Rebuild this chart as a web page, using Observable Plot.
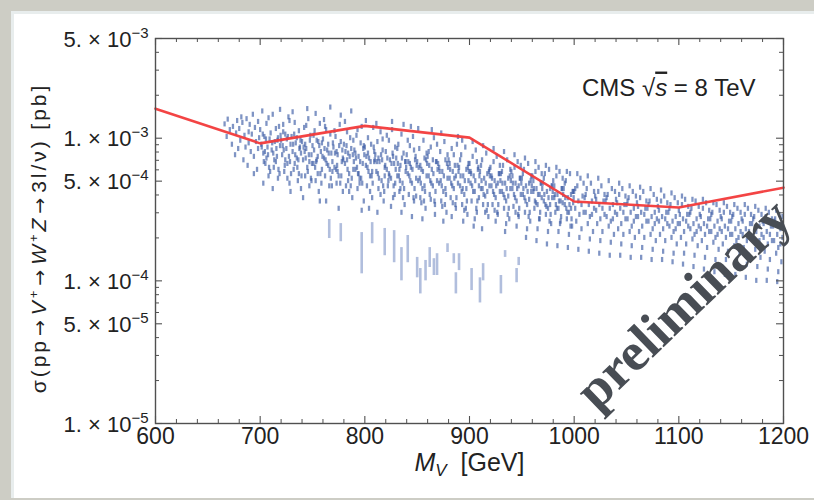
<!DOCTYPE html>
<html><head><meta charset="utf-8">
<script src="https://cdn.jsdelivr.net/npm/d3@7"></script>
<script src="https://cdn.jsdelivr.net/npm/@observablehq/plot@0.6"></script>
<style>
html,body{margin:0;padding:0;overflow:hidden;}
body{width:814px;height:500px;background:#cdcdc5;position:relative;}
#panel{position:absolute;left:11px;top:11px;width:803px;height:487px;background:#fff;box-shadow:inset 3px 3px 0 0 #e8eded;}
#chart{position:absolute;left:0;top:0;}
#ytitle{position:absolute;left:38px;top:238px;transform:translate(-50%,-50%) rotate(-90deg);white-space:nowrap;
  font-family:'Liberation Sans',Arial,sans-serif;font-size:21px;color:#222;line-height:1;}
#ytitle i{font-style:italic;}
#ytitle sup{font-size:13px;vertical-align:8px;line-height:0;}
#ytitle .ar{font-family:'DejaVu Sans',sans-serif;font-size:19px;margin:0 2px;}
</style></head><body><div id="panel"></div><div id="chart"></div>
<div id="ytitle">σ(pp<span class="ar">→</span><i>V</i><sup>+</sup><span class="ar">→</span><i>W</i><sup>+</sup><i>Z</i><span class="ar">→</span>3l/ν) [pb]</div>
<script>
// ---- data ----
// observed 95% CL limit (red line)
const limitMass = [600, 700, 800, 900, 1000, 1100, 1200];
const limitSigma = [1.61e-3, 9.2e-4, 1.22e-3, 1.01e-3, 3.6e-4, 3.27e-4, 4.5e-4];

// scan points: [M_V (GeV), sigma (units of 1e-4 pb)]
const cloudPts = [
[666,12.5],[668,10.2],[669,13.5],[671,11.4],[673,9.0],[674,12.0],[676,7.6],[677,10.8],[678,13.2],[679,8.4],
[680,11.6],[681,9.6],[682,14.0],[683,12.8],[684,7.0],[685,10.4],[686,8.6],[687,13.6],[688,6.4],[689,11.0],[689,9.2],
[690,12.4],[691,8.0],[692,10.6],[693,14.6],[694,7.4],[695,11.8],[696,9.4],[697,6.0],[698,13.0],[699,10.0],[698,8.4],[694,5.6],
[700,11.4],[701,9.0],[702,15.4],[703,7.8],[704,10.2],[705,6.6],[706,12.6],[707,8.6],[708,5.4],[709,9.8],[703,4.8],[706,7.2],[708,13.8],
[710,10.8],[711,8.2],[712,14.6],[713,6.2],[714,9.4],[715,11.6],[716,7.4],[717,5.2],[718,12.0],[719,8.8],[712,4.4],[715,6.8],[717,10.0],[719,15.8],
[720,9.6],[721,7.6],[722,12.4],[723,5.8],[724,10.6],[725,8.4],[726,6.6],[727,14.0],[728,4.8],[729,9.0],[722,11.0],[724,7.0],[726,5.2],[728,13.2],[729,4.2],
[730,10.2],[731,8.0],[732,6.0],[733,12.8],[734,9.2],[735,7.2],[736,5.0],[737,11.2],[738,8.6],[739,4.4],[731,15.2],[733,6.6],[735,10.0],[737,5.6],[739,7.8],
[740,9.4],[741,7.0],[742,11.8],[743,5.4],[744,8.4],[745,6.2],[746,13.6],[747,4.6],[748,10.4],[749,7.6],[741,3.8],[743,9.0],[745,16.0],[747,6.8],[749,5.0],[744,12.2],
[750,8.8],[751,6.6],[752,11.2],[753,5.0],[754,9.6],[755,7.4],[756,4.2],[757,12.6],[758,8.0],[759,6.0],[751,10.4],[753,14.8],[755,5.6],[757,3.6],[759,9.2],[754,7.0],
[760,9.8],[761,7.2],[762,5.4],[763,11.4],[764,8.2],[765,6.4],[766,4.6],[767,10.6],[768,7.8],[769,5.8],[761,13.4],[763,3.6],[765,9.0],[767,16.4],[769,6.8],[762,12.0],
[770,8.6],[771,6.2],[772,10.2],[773,4.8],[774,7.6],[775,5.4],[776,12.4],[777,9.4],[778,6.8],[779,4.2],[771,11.2],[773,8.0],[775,3.2],[777,14.4],[779,7.2],[774,5.8],
[780,9.0],[781,6.6],[782,4.6],[783,11.0],[784,7.8],[785,5.6],[786,10.0],[787,8.4],[788,3.8],[789,6.0],[781,13.0],[783,7.0],[785,4.2],[787,15.4],[789,9.6],[784,5.0],
[790,8.2],[791,6.0],[792,10.4],[793,4.4],[794,7.4],[795,5.2],[796,9.2],[797,12.0],[798,6.6],[799,3.6],[791,7.8],[793,11.4],[795,4.8],[797,3.1],[799,8.8],[794,5.6],
[800,8.6],[801,6.4],[802,4.6],[803,10.0],[804,7.2],[805,5.4],[806,9.0],[807,3.8],[808,11.8],[809,6.8],[801,13.2],[803,7.8],[805,4.2],[807,5.8],[809,8.0],[804,3.2],
[810,7.6],[811,5.8],[812,9.4],[813,4.4],[814,6.8],[815,11.0],[816,5.0],[817,8.2],[818,3.6],[819,6.2],[811,12.6],[813,7.2],[815,4.0],[817,9.8],[819,5.4],[812,3.0],
[820,8.0],[821,6.0],[822,4.6],[823,9.6],[824,7.0],[825,5.2],[826,11.4],[827,3.8],[828,6.6],[829,8.6],[821,10.4],[823,5.6],[825,3.3],[827,7.4],[829,4.8],[826,13.0],
[830,7.2],[831,5.4],[832,9.0],[833,4.2],[834,6.4],[835,10.6],[836,4.8],[837,7.8],[838,3.4],[839,5.8],[831,8.4],[833,6.0],[835,3.0],[837,12.4],[839,6.8],[834,4.4],
[840,7.6],[841,5.6],[842,4.0],[843,8.8],[844,6.2],[845,4.8],[846,10.2],[847,3.6],[848,7.0],[849,5.2],[841,9.6],[843,6.6],[845,2.8],[847,8.2],[849,3.9],[844,12.0],
[850,6.8],[851,5.0],[852,8.4],[853,3.8],[854,6.0],[855,4.4],[856,9.6],[857,7.2],[858,3.2],[859,5.4],[851,11.6],[853,6.4],[855,2.7],[857,4.6],[859,7.8],[854,3.5],
[860,7.4],[861,5.4],[862,4.0],[863,8.6],[864,6.0],[865,4.6],[866,10.0],[867,3.4],[868,6.8],[869,5.0],[861,8.0],[863,3.7],[865,7.0],[867,2.9],[869,9.0],[864,11.4],
[870,6.6],[871,4.8],[872,8.0],[873,3.6],[874,5.8],[875,4.2],[876,9.4],[877,7.0],[878,3.0],[879,5.2],[871,6.2],[873,10.8],[875,2.6],[877,4.4],[879,7.6],[874,3.3],
[880,7.0],[881,5.2],[882,3.8],[883,8.4],[884,5.8],[885,4.4],[886,6.4],[887,3.2],[888,9.0],[889,4.8],[881,6.6],[883,2.8],[885,7.6],[887,5.4],[889,10.2],[884,3.5],
[890,6.2],[891,4.6],[892,7.6],[893,3.4],[894,5.4],[895,4.0],[896,8.6],[897,6.0],[898,2.9],[899,5.0],[891,7.0],[893,9.6],[895,3.1],[897,4.4],[899,6.6],[894,2.6],
[900,6.6],[901,4.8],[902,3.6],[903,7.4],[904,5.4],[905,4.2],[906,8.2],[907,3.0],[908,6.0],[909,4.6],[901,5.8],[903,9.4],[905,2.7],[907,6.8],[909,3.8],[904,2.4],
[910,5.8],[911,4.4],[912,7.0],[913,3.4],[914,5.2],[915,3.9],[916,7.8],[917,5.6],[918,2.8],[919,4.6],[911,6.4],[913,8.8],[915,3.0],[917,4.2],[919,6.0],[912,2.3],
[920,6.2],[921,4.6],[922,3.4],[923,6.8],[924,5.0],[925,3.8],[926,7.4],[927,2.9],[928,5.6],[929,4.2],[921,5.4],[923,8.4],[925,2.6],[927,4.8],[929,6.4],[924,3.1],
[930,5.6],[931,4.2],[932,6.4],[933,3.2],[934,4.8],[935,3.6],[936,7.0],[937,5.2],[938,2.7],[939,4.4],[931,5.8],[933,8.0],[935,2.5],[937,3.9],[939,6.0],[934,2.2],
[940,5.8],[941,4.4],[942,3.3],[943,6.2],[944,4.8],[945,3.6],[946,6.8],[947,2.8],[948,5.2],[949,4.0],[941,5.4],[943,7.6],[945,2.4],[947,4.6],[949,6.4],[944,3.0],
[950,5.2],[951,4.0],[952,6.0],[953,3.0],[954,4.6],[955,3.4],[956,6.6],[957,4.8],[958,2.6],[959,4.2],[951,5.6],[953,7.2],[955,2.3],[957,3.7],[959,5.4],[954,2.0],
[960,5.4],[961,4.2],[962,3.2],[963,5.8],[964,4.4],[965,3.4],[966,6.2],[967,2.7],[968,4.8],[969,3.8],[961,5.0],[963,6.8],[965,2.3],[967,4.0],[969,5.6],[964,1.9],
[970,4.8],[971,3.6],[972,5.6],[973,2.9],[974,4.2],[975,3.2],[976,6.0],[977,4.4],[978,2.5],[979,3.8],[971,5.2],[973,6.4],[975,2.2],[977,3.4],[979,4.6],[974,1.8],
[980,5.0],[981,3.8],[982,3.0],[983,5.4],[984,4.0],[985,3.2],[986,5.8],[987,2.6],[988,4.4],[989,3.5],[981,4.6],[983,6.2],[985,2.2],[987,3.6],[989,5.2],[984,1.75],
[990,4.4],[991,3.4],[992,5.0],[993,2.7],[994,3.8],[995,3.0],[996,5.6],[997,4.0],[998,2.4],[999,3.5],[991,4.8],[993,5.8],[995,2.1],[997,3.2],[999,4.2],[994,1.7],
[1000,4.2],[1001,3.2],[1002,2.6],[1003,4.6],[1004,3.6],[1005,2.9],[1006,5.2],[1007,2.3],[1008,3.9],[1009,3.0],[1001,4.4],[1003,5.6],[1005,2.0],[1007,3.4],[1009,4.8],[1004,1.65],
[1010,3.8],[1011,3.0],[1012,4.4],[1013,2.5],[1014,3.4],[1015,2.8],[1016,4.8],[1017,3.6],[1018,2.2],[1019,3.2],[1011,4.0],[1013,5.4],[1015,1.95],[1017,2.9],[1019,4.2],[1014,1.6],
[1020,3.9],[1021,3.1],[1022,2.5],[1023,4.2],[1024,3.4],[1025,2.7],[1026,4.6],[1027,2.2],[1028,3.6],[1029,2.9],[1021,3.7],[1023,5.2],[1025,1.9],[1027,3.2],[1029,4.0],[1024,1.55],
[1030,3.6],[1031,2.8],[1032,4.0],[1033,2.4],[1034,3.2],[1035,2.6],[1036,4.4],[1037,3.4],[1038,2.1],[1039,3.0],[1031,3.8],[1033,5.0],[1035,1.85],[1037,2.7],[1039,4.2],[1034,1.5],
[1040,3.7],[1041,2.9],[1042,2.3],[1043,4.0],[1044,3.2],[1045,2.5],[1046,4.4],[1047,2.1],[1048,3.4],[1049,2.7],[1041,3.5],[1043,4.8],[1045,1.8],[1047,3.0],[1049,3.9],[1044,1.5],
[1050,3.4],[1051,2.7],[1052,3.8],[1053,2.2],[1054,3.0],[1055,2.4],[1056,4.2],[1057,3.2],[1058,2.0],[1059,2.8],[1051,3.6],[1053,4.6],[1055,1.75],[1057,2.6],[1059,3.9],[1054,1.45],
[1060,3.5],[1061,2.8],[1062,2.2],[1063,3.8],[1064,3.0],[1065,2.4],[1066,4.2],[1067,2.0],[1068,3.2],[1069,2.6],[1061,3.3],[1063,4.5],[1065,1.7],[1067,2.9],[1069,3.6],[1064,1.45],
[1070,3.2],[1071,2.6],[1072,3.6],[1073,2.1],[1074,2.8],[1075,2.3],[1076,4.0],[1077,3.0],[1078,1.9],[1079,2.7],[1071,3.4],[1073,4.4],[1075,1.65],[1077,2.5],[1079,3.7],[1074,1.4],
[1080,3.3],[1081,2.6],[1082,2.1],[1083,3.6],[1084,2.8],[1085,2.3],[1086,3.9],[1087,1.9],[1088,3.0],[1089,2.5],[1081,3.1],[1083,4.3],[1085,1.6],[1087,2.7],[1089,3.5],[1084,1.4],
[1090,3.0],[1091,2.4],[1092,3.4],[1093,2.0],[1094,2.6],[1095,2.2],[1096,3.8],[1097,2.8],[1098,1.8],[1099,2.5],[1091,3.2],[1093,4.1],[1095,1.55],[1097,2.3],[1099,3.5],[1094,1.35],
[1100,3.1],[1101,2.5],[1102,2.0],[1103,3.4],[1104,2.7],[1105,2.2],[1106,3.7],[1107,1.8],[1108,2.9],[1109,2.4],[1101,2.9],[1103,3.9],[1105,1.55],[1107,2.6],[1109,3.3],[1104,1.3],
[1110,2.9],[1111,2.3],[1112,3.2],[1113,1.95],[1114,2.5],[1115,2.1],[1116,3.6],[1117,2.7],[1118,1.75],[1119,2.4],[1111,3.0],[1113,3.7],[1115,1.5],[1117,2.2],[1119,3.3],[1114,1.25],
[1120,2.9],[1121,2.3],[1122,1.9],[1123,3.2],[1124,2.5],[1125,2.1],[1126,3.5],[1127,1.7],[1128,2.7],[1129,2.2],[1121,2.8],[1123,3.7],[1125,1.45],[1127,2.4],[1129,3.1],[1124,1.2],
[1130,2.7],[1131,2.2],[1132,3.0],[1133,1.85],[1134,2.4],[1135,2.0],[1136,3.4],[1137,2.6],[1138,1.65],[1139,2.3],[1131,2.9],[1133,3.5],[1135,1.4],[1137,2.1],[1139,3.1],[1134,1.15],
[1140,2.8],[1141,2.2],[1142,1.8],[1143,3.0],[1144,2.4],[1145,2.0],[1146,3.3],[1147,1.6],[1148,2.6],[1149,2.1],[1141,2.7],[1143,3.5],[1145,1.4],[1147,2.3],[1149,3.0],[1144,1.1],
[1150,2.6],[1151,2.1],[1152,2.9],[1153,1.75],[1154,2.3],[1155,1.9],[1156,3.2],[1157,2.5],[1158,1.55],[1159,2.2],[1151,2.8],[1153,3.4],[1155,1.35],[1157,2.0],[1159,3.0],[1154,1.1],
[1160,2.7],[1161,2.1],[1162,1.7],[1163,2.9],[1164,2.3],[1165,1.9],[1166,3.2],[1167,1.5],[1168,2.5],[1169,2.0],[1161,2.6],[1163,3.4],[1165,1.3],[1167,2.2],[1169,2.9],[1164,1.05],
[1170,2.5],[1171,2.0],[1172,2.8],[1173,1.65],[1174,2.2],[1175,1.8],[1176,3.1],[1177,2.4],[1178,1.45],[1179,2.1],[1171,2.7],[1173,3.3],[1175,1.25],[1177,1.9],[1179,2.9],[1174,1.0],
[1180,2.6],[1181,2.0],[1182,1.6],[1183,2.8],[1184,2.2],[1185,1.8],[1186,3.0],[1187,1.4],[1188,2.4],[1189,1.9],[1181,2.5],[1183,3.2],[1185,1.2],[1187,2.1],[1189,2.7],[1184,1.0],
[1190,2.4],[1191,1.9],[1192,2.7],[1193,1.55],[1194,2.1],[1195,1.7],[1196,2.9],[1197,2.3],[1198,1.35],[1199,2.0],[1191,2.6],[1193,3.1],[1195,1.15],[1197,1.8],[1199,2.8],[1194,0.98]
];

// extra points in the dense core of the scan
const cloudCore = [
[701.5,8.6],[703.5,6.8],[705.5,9.8],[707.5,7.6],[709.5,5.8],[702.5,10.6],[704.5,8.0],[708.5,6.2],
[711.5,9.2],[713.5,7.0],[715.5,8.4],[717.5,6.0],[719.5,10.4],[712.5,7.8],[716.5,9.6],[718.5,5.6],
[721.5,8.8],[723.5,6.4],[725.5,9.8],[727.5,7.4],[729.5,5.6],[722.5,8.2],[726.5,10.2],[728.5,6.8],
[731.5,9.0],[733.5,7.6],[735.5,6.2],[737.5,8.4],[739.5,5.4],[732.5,10.6],[736.5,7.0],[738.5,9.6],
[741.5,8.6],[743.5,7.2],[745.5,5.8],[747.5,9.6],[749.5,6.6],[742.5,8.0],[746.5,7.6],[748.5,5.2],
[751.5,8.2],[753.5,6.8],[755.5,9.4],[757.5,5.6],[759.5,7.4],[752.5,6.2],[756.5,8.8],[758.5,4.8],
[761.5,8.4],[763.5,6.6],[765.5,7.8],[767.5,5.2],[769.5,9.2],[762.5,7.0],[766.5,6.0],[768.5,4.6],
[771.5,7.8],[773.5,6.4],[775.5,8.8],[777.5,5.4],[779.5,7.0],[772.5,6.0],[776.5,4.8],[778.5,8.2],
[781.5,8.0],[783.5,6.0],[785.5,7.4],[787.5,5.2],[789.5,6.8],[782.5,8.8],[786.5,4.6],[788.5,7.6],
[791.5,7.2],[793.5,5.6],[795.5,6.8],[797.5,4.8],[799.5,7.6],[792.5,6.2],[796.5,5.2],[798.5,8.4],
[801.5,7.4],[803.5,5.8],[805.5,6.8],[807.5,4.8],[809.5,7.0],[802.5,6.2],[806.5,5.4],[808.5,8.6],
[811.5,6.8],[813.5,5.2],[815.5,7.6],[817.5,4.6],[819.5,6.4],[812.5,5.6],[816.5,7.0],[818.5,4.2],
[821.5,7.2],[823.5,5.4],[825.5,6.6],[827.5,4.6],[829.5,6.0],[822.5,5.0],[826.5,7.8],[828.5,4.0],
[831.5,6.6],[833.5,5.0],[835.5,7.2],[837.5,4.4],[839.5,6.2],[832.5,5.4],[836.5,3.8],[838.5,6.8],
[841.5,6.8],[843.5,5.0],[845.5,6.0],[847.5,4.4],[849.5,6.4],[842.5,5.4],[846.5,3.8],[848.5,7.4],
[851.5,6.2],[853.5,4.8],[855.5,5.8],[857.5,4.2],[859.5,6.6],[852.5,5.2],[856.5,3.6],[858.5,7.0],
[861.5,6.4],[863.5,4.8],[865.5,5.6],[867.5,4.2],[869.5,6.0],[862.5,5.0],[866.5,3.6],[868.5,6.8],
[871.5,5.8],[873.5,4.6],[875.5,5.4],[877.5,4.0],[879.5,6.2],[872.5,5.0],[876.5,3.4],[878.5,6.6],
[881.5,6.0],[883.5,4.6],[885.5,5.2],[887.5,3.8],[889.5,5.8],[882.5,4.8],[886.5,3.4],[888.5,6.4],
[891.5,5.4],[893.5,4.4],[895.5,5.0],[897.5,3.6],[899.5,5.8],[892.5,4.2],[896.5,3.2],[898.5,6.2],
[901.5,5.6],[903.5,4.2],[905.5,5.0],[907.5,3.6],[909.5,5.4],[902.5,4.6],[906.5,3.2],[908.5,6.2],
[911.5,5.0],[913.5,4.0],[915.5,4.8],[917.5,3.4],[919.5,5.4],[912.5,4.4],[916.5,3.1],[918.5,5.8],
[921.5,5.2],[923.5,4.0],[925.5,4.6],[927.5,3.4],[929.5,5.0],[922.5,4.2],[926.5,3.0],[928.5,5.6],
[931.5,4.8],[933.5,3.8],[935.5,4.4],[937.5,3.2],[939.5,5.0],[932.5,4.0],[936.5,2.9],[938.5,5.4],
[941.5,4.8],[943.5,3.8],[945.5,4.4],[947.5,3.2],[949.5,4.8],[942.5,4.0],[946.5,2.9],[948.5,5.2],
[951.5,4.4],[953.5,3.6],[955.5,4.2],[957.5,3.0],[959.5,4.6],[952.5,3.8],[956.5,2.8],[958.5,5.0],
[961.5,4.4],[963.5,3.5],[965.5,4.0],[967.5,3.0],[969.5,4.4],[962.5,3.6],[966.5,2.7],[968.5,4.8],
[971.5,4.0],[973.5,3.3],[975.5,3.8],[977.5,2.9],[979.5,4.2],[972.5,3.4],[976.5,2.6],[978.5,4.6],
[981.5,4.0],[983.5,3.2],[985.5,3.6],[987.5,2.8],[989.5,4.0],[982.5,3.4],[986.5,2.5],[988.5,4.4],
[991.5,3.8],[993.5,3.0],[995.5,3.4],[997.5,2.7],[999.5,3.8],[992.5,3.2],[996.5,2.4],[998.5,4.2]
];

// points with long vertical uncertainty bars: [M_V, low, high] (units of 1e-4 pb)
const longBars = [
[766,1.98,2.69],[777,1.88,2.52],[797,1.12,2.18],[807,1.82,2.56],[819,1.50,2.33],
[828,1.34,2.25],[835,1.00,1.71],[841,1.34,2.08],[850,1.05,1.46],[853,0.81,1.22],
[858,1.00,1.39],[862,1.24,1.71],[866,1.09,1.43],[869,1.09,1.55],[879,1.58,1.82],
[885,1.32,1.55],[890,1.18,1.55],[887,0.81,1.14],[902,0.855,1.22],[910,0.70,1.05],
[913,1.00,1.32],[930,0.81,1.09],[934,1.46,1.63],[945,0.97,1.22],[947,1.28,1.46]
];

// axes
const xMajor = [600, 700, 800, 900, 1000, 1100, 1200];
const xMinor = [620,640,660,680,720,740,760,780,820,840,860,880,920,940,960,980,1020,1040,1060,1080,1120,1140,1160,1180];
const yMajor = [1e-5, 5e-5, 1e-4, 5e-4, 1e-3, 5e-3];
const yMinor = [2e-5,3e-5,4e-5,6e-5,7e-5,8e-5,9e-5,2e-4,3e-4,4e-4,6e-4,7e-4,8e-4,9e-4,2e-3,3e-3,4e-3];
const yLabelMant = ["1.", "5.", "1.", "5.", "1.", "5."];
const yLabelExp = ["−5", "−5", "−4", "−4", "−3", "−3"];

// ---- chart ----
const W = 814, H = 500, mL = 155, mR = 31, mT = 38, mB = 77;
const pw = W - mL - mR, ph = H - mT - mB;
const INK = "#505050";
const DOT = "#3d5da6";
const dashF = 1.042;
const FONT = "'Liberation Sans', Arial, Helvetica, sans-serif";

const chart = Plot.plot({
  width: W, height: H,
  marginLeft: mL, marginRight: mR, marginTop: mT, marginBottom: mB,
  x: {domain: [600, 1200], axis: null},
  y: {type: "log", domain: [1e-5, 5e-3], axis: null},
  style: {background: "transparent", fontFamily: FONT, overflow: "visible", color: "#222"},
  marks: [
    Plot.ruleX(cloudPts, {x: d => d[0], y1: d => d[1] * 1e-4 / dashF, y2: d => d[1] * 1e-4 * dashF, stroke: DOT, strokeWidth: 2.3, strokeOpacity: 0.66, ariaDescription: "cloud"}),
    Plot.ruleX(cloudCore, {x: d => d[0], y1: d => d[1] * 1e-4 / dashF, y2: d => d[1] * 1e-4 * dashF, stroke: DOT, strokeWidth: 2.3, strokeOpacity: 0.66, ariaDescription: "cloud"}),
    Plot.ruleX(longBars, {x: d => d[0], y1: d => d[1] * 1e-4, y2: d => d[2] * 1e-4, stroke: "#7d92c6", strokeWidth: 2.6, strokeOpacity: 0.6, ariaDescription: "cloud"}),
    Plot.line(limitMass.map((m, i) => [m, limitSigma[i]]), {x: d => d[0], y: d => d[1], stroke: "#f23a3a", strokeWidth: 2.6, strokeOpacity: 0.95}),
    Plot.frame({stroke: INK, strokeWidth: 1.4}),
    // inward ticks
    Plot.tickX(xMajor, {x: d => d, insetTop: ph - 7, stroke: INK, strokeWidth: 1.1}),
    Plot.tickX(xMajor, {x: d => d, insetBottom: ph - 7, stroke: INK, strokeWidth: 1.1}),
    Plot.tickX(xMinor, {x: d => d, insetTop: ph - 4, stroke: INK, strokeWidth: 1}),
    Plot.tickX(xMinor, {x: d => d, insetBottom: ph - 4, stroke: INK, strokeWidth: 1}),
    Plot.tickY(yMajor, {y: d => d, insetRight: pw - 7, stroke: INK, strokeWidth: 1.1}),
    Plot.tickY(yMajor, {y: d => d, insetLeft: pw - 7, stroke: INK, strokeWidth: 1.1}),
    Plot.tickY(yMinor, {y: d => d, insetRight: pw - 4, stroke: INK, strokeWidth: 1}),
    Plot.tickY(yMinor, {y: d => d, insetLeft: pw - 4, stroke: INK, strokeWidth: 1}),
    // tick labels
    Plot.text(xMajor, {x: d => d, frameAnchor: "bottom", dy: 20, text: d => String(d), fontSize: 23, fill: "#222"}),
    Plot.text(yMajor, {y: d => d, frameAnchor: "left", dx: -7, dy: 1, textAnchor: "end", text: () => "x", fontSize: 22, fill: "#222", ariaDescription: "ylab"}),
    // axis title (x) and energy label
    Plot.text(["t"], {frameAnchor: "bottom", dy: 47, fontSize: 25, fill: "#222", ariaDescription: "xtitle"}),
    Plot.text(["t"], {frameAnchor: "top-right", dx: -28, dy: 40, textAnchor: "end", fontSize: 24, fill: "#222", ariaDescription: "cms"}),
    // watermark
    Plot.text(["preliminary"], {frameAnchor: "middle", dx: 214, dy: 73, rotate: -44, fontSize: 54, fontFamily: "'Liberation Serif', 'DejaVu Serif', serif", fontWeight: "bold", fill: "#484d54"})
  ]
});

document.getElementById("chart").appendChild(chart);

const svg = d3.select(chart);
svg.selectAll('g[aria-description="cloud"]').style("filter", "blur(0.35px)");

// rich text (superscripts, italics)
function rich(desc, partsFn) {
  svg.selectAll(`g[aria-description="${desc}"] text`).each(function (_, i) {
    const t = d3.select(this);
    t.text("");
    for (const s of partsFn(i)) {
      const ts = t.append("tspan").text(s.t);
      if (s.it) ts.attr("font-style", "italic");
      if (s.fs) ts.attr("font-size", s.fs);
      if (s.dy) ts.attr("dy", s.dy);
      if (s.deco) ts.style("text-decoration", s.deco);
    }
  });
}
rich("ylab", i => [{t: yLabelMant[i] + " × 10"}, {t: yLabelExp[i], fs: 15, dy: -9}]);
rich("xtitle", () => [{t: "M", it: true}, {t: "V", it: true, fs: 17, dy: 5}, {t: "  [GeV]", dy: -5}]);
rich("cms", () => [{t: "CMS "}, {t: "√"}, {t: "s", it: true, deco: "overline"}, {t: " = 8 TeV"}]);

// fit the y title to the reference's length (~310 px) with letter spacing
const yt = document.getElementById("ytitle");
const natural = yt.scrollWidth;
const nChars = yt.textContent.length;
yt.style.letterSpacing = ((310 - natural) / nChars).toFixed(2) + "px";
</script></body></html>
